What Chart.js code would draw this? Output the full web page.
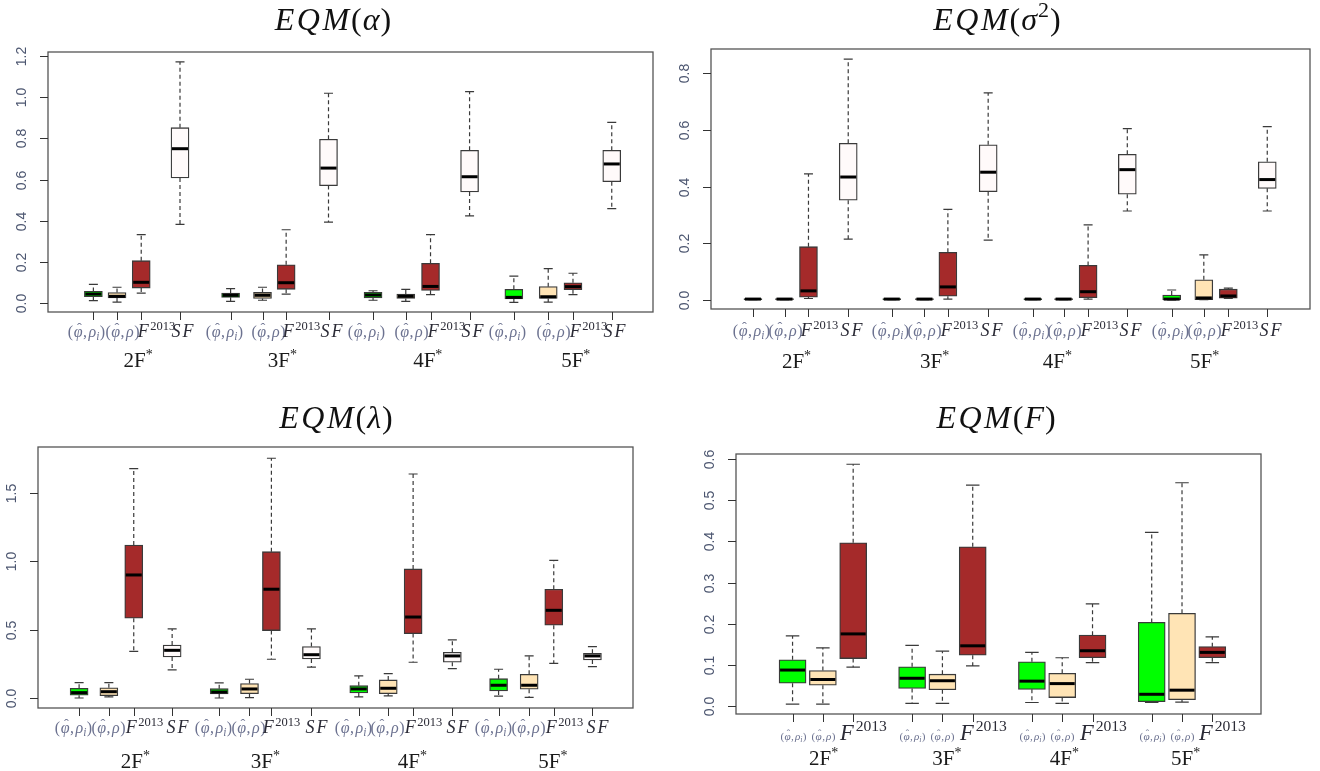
<!DOCTYPE html>
<html>
<head>
<meta charset="utf-8">
<script src="https://cdn.jsdelivr.net/npm/chart.js@4.4.1/dist/chart.umd.min.js"></script>
<style>
  body { margin: 0; background: #fff; width: 1320px; height: 771px; overflow: hidden; position: relative; }
  canvas { position: absolute; }
</style>
</head>
<body>
<canvas id="cAlpha" width="660" height="385" style="left:0;top:0"></canvas>
<canvas id="cSigma" width="660" height="385" style="left:660px;top:0"></canvas>
<canvas id="cLambda" width="660" height="386" style="left:0;top:385px"></canvas>
<canvas id="cF" width="660" height="386" style="left:660px;top:385px"></canvas>
<script>
// groups and methods
const groups = ['2F', '3F', '4F', '5F'];
const methods4 = ['phiI', 'phi', 'F2013', 'SF'];
const methods3 = ['phiI', 'phi', 'F2013'];
const colors4 = ['#00ff00', '#ffe4b5', '#a52a2a', '#fffafa'];
const colors3 = ['#00ff00', '#ffe4b5', '#a52a2a'];

// EQM(alpha)
const alphaLo  = [0.013, 0.006, 0.050, 0.383, 0.010, 0.015, 0.045, 0.394, 0.015, 0.010, 0.042, 0.424, 0.005, 0.006, 0.042, 0.459];
const alphaQ1  = [0.032, 0.026, 0.074, 0.608, 0.029, 0.024, 0.068, 0.571, 0.026, 0.024, 0.063, 0.540, 0.021, 0.024, 0.066, 0.590];
const alphaMed = [0.045, 0.034, 0.102, 0.750, 0.039, 0.039, 0.100, 0.656, 0.040, 0.034, 0.082, 0.614, 0.029, 0.032, 0.081, 0.676];
const alphaQ3  = [0.058, 0.052, 0.207, 0.852, 0.050, 0.053, 0.187, 0.796, 0.053, 0.045, 0.194, 0.742, 0.068, 0.081, 0.100, 0.742];
const alphaHi  = [0.092, 0.078, 0.333, 1.171, 0.071, 0.078, 0.357, 1.019, 0.061, 0.068, 0.333, 1.027, 0.132, 0.168, 0.146, 0.878];
const alphaAt  = [0.65, 1.51, 2.39, 3.80, 5.64, 6.80, 7.66, 9.20, 10.82, 12.01, 12.91, 14.33, 15.94, 17.19, 18.09, 19.50];
const alphaGroupAt = [2.28, 7.52, 12.81, 18.19];
const alphaTicks = [0, 0.2, 0.4, 0.6, 0.8, 1.0, 1.2];

// EQM(sigma^2)
const sigmaLo  = [0.001, 0.001, 0.005, 0.215, 0.001, 0.001, 0.003, 0.211, 0.001, 0.001, 0.003, 0.314, 0.000, 0.001, 0.005, 0.314];
const sigmaQ1  = [0.001, 0.001, 0.010, 0.352, 0.001, 0.001, 0.013, 0.382, 0.001, 0.001, 0.008, 0.373, 0.001, 0.001, 0.006, 0.394];
const sigmaMed = [0.003, 0.003, 0.032, 0.434, 0.003, 0.003, 0.046, 0.451, 0.003, 0.003, 0.029, 0.460, 0.003, 0.007, 0.014, 0.425];
const sigmaQ3  = [0.005, 0.005, 0.188, 0.553, 0.005, 0.005, 0.168, 0.548, 0.005, 0.005, 0.122, 0.514, 0.017, 0.071, 0.038, 0.488];
const sigmaHi  = [0.005, 0.005, 0.445, 0.850, 0.005, 0.005, 0.320, 0.731, 0.005, 0.005, 0.265, 0.605, 0.035, 0.159, 0.042, 0.612];
const sigmaAt  = [0.54, 1.70, 2.58, 4.04, 5.64, 6.84, 7.70, 9.18, 10.82, 11.95, 12.85, 14.29, 15.92, 17.10, 18.00, 19.43];
const sigmaGroupAt = [2.14, 7.21, 11.72, 17.13];
const sigmaTicks = [0, 0.2, 0.4, 0.6, 0.8];

// EQM(lambda)
const lambdaLo  = [0.002, 0.010, 0.343, 0.207, 0.002, 0.005, 0.285, 0.228, 0.010, 0.017, 0.263, 0.216, 0.015, 0.007, 0.255, 0.231];
const lambdaQ1  = [0.022, 0.019, 0.584, 0.301, 0.031, 0.034, 0.494, 0.287, 0.039, 0.034, 0.472, 0.263, 0.053, 0.066, 0.533, 0.280];
const lambdaMed = [0.041, 0.048, 0.900, 0.350, 0.046, 0.068, 0.796, 0.318, 0.068, 0.073, 0.593, 0.309, 0.095, 0.095, 0.642, 0.309];
const lambdaQ3  = [0.073, 0.077, 1.119, 0.389, 0.070, 0.107, 1.070, 0.377, 0.092, 0.134, 0.944, 0.336, 0.143, 0.175, 0.796, 0.328];
const lambdaHi  = [0.114, 0.114, 1.676, 0.506, 0.112, 0.139, 1.752, 0.506, 0.163, 0.180, 1.637, 0.426, 0.212, 0.309, 1.007, 0.377];
const lambdaAt  = [0.52, 1.62, 2.54, 3.96, 5.70, 6.82, 7.63, 9.11, 10.86, 11.95, 12.87, 14.32, 16.03, 17.16, 18.07, 19.50];
const lambdaGroupAt = [2.60, 7.41, 12.84, 18.04];
const lambdaTicks = [0, 0.5, 1.0, 1.5];

// EQM(F)
const fLo  = [0.004, 0.004, 0.094, 0.006, 0.006, 0.097, 0.008, 0.006, 0.105, 0.008, 0.009, 0.105];
const fQ1  = [0.055, 0.050, 0.115, 0.042, 0.039, 0.123, 0.040, 0.020, 0.117, 0.010, 0.015, 0.117];
const fMed = [0.087, 0.064, 0.175, 0.067, 0.061, 0.146, 0.060, 0.054, 0.134, 0.028, 0.038, 0.130];
const fQ3  = [0.112, 0.086, 0.397, 0.095, 0.077, 0.387, 0.107, 0.079, 0.172, 0.203, 0.225, 0.144];
const fHi  = [0.170, 0.141, 0.588, 0.147, 0.133, 0.537, 0.130, 0.117, 0.248, 0.422, 0.543, 0.168];
const fAt  = [1.37, 2.64, 3.91, 6.38, 7.65, 8.92, 11.40, 12.67, 13.94, 16.42, 17.69, 18.96];
const fGroupAt = [2.67, 7.84, 12.76, 17.84];
const fTicks = [0, 0.1, 0.2, 0.3, 0.4, 0.5, 0.6];

const SERIF = '"Liberation Serif", "DejaVu Serif", serif';
function seg(t, size, italic, dy, sp, hat) {
  return { t: t, size: size, f: (italic ? 'italic ' : '') + size + 'px ' + SERIF, dy: dy || 0, sp: sp || 0, hat: !!hat };
}
function rich(ctx, segs, cx, y, color) {
  let w = 0;
  segs.forEach(s => { ctx.font = s.f; s.w = ctx.measureText(s.t).width; w += s.w + s.sp; });
  let xx = cx - w / 2;
  ctx.fillStyle = color;
  ctx.textBaseline = 'alphabetic';
  segs.forEach(s => {
    ctx.font = s.f;
    ctx.textAlign = 'left';
    ctx.fillText(s.t, xx, y + s.dy);
    if (s.hat) {
      ctx.font = (s.size * 0.9) + 'px ' + SERIF;
      ctx.textAlign = 'center';
      ctx.fillText('\u02C6', xx + s.w / 2 + s.size * 0.08, y + s.dy - s.size * 0.28);
    }
    xx += s.w + s.sp;
  });
}

const methodSegs = {
  phiI: k => [seg('(', 16 * k, false, 0, 0.5 * k), seg('φ', 16 * k, true, 0, 0.5 * k, true), seg(',', 16 * k, false, 0, 1.5 * k),
              seg('ρ', 16 * k, true), seg('i', 11.5 * k, true, 3 * k, 0.5 * k), seg(')', 16 * k)],
  phi: k => [seg('(', 16 * k, false, 0, 0.5 * k), seg('φ', 16 * k, true, 0, 0.5 * k, true), seg(',', 16 * k, false, 0, 1.5 * k),
             seg('ρ', 16 * k, true, 0, 0.5 * k), seg(')', 16 * k)],
  F2013: k => [seg('F', 18 * k, true, 0, 1.5 * k), seg('2013', 12.5 * k, false, -7 * k)],
  SF: k => [seg('S', 18 * k, true, 0, 2), seg('F', 18 * k, true)]
};
const methodColor = { phiI: '#6c7290', phi: '#6c7290', F2013: '#2b2b36', SF: '#2b2b36' };

function titleSegs(sym) {
  const s = 32;
  const out = [seg('E', s, true, 0, 2.5), seg('Q', s, true, 0, 2.5), seg('M', s, true, 0, 2), seg('(', s, false, 0, 1)];
  return out.concat(sym(s), [seg(')', s)]);
}

function rPlugin(cfg) {
  return {
    id: 'rbox',
    beforeDatasetsDraw(chart) {
      const ctx = chart.ctx, x = chart.scales.x, y = chart.scales.y;
      const cap = cfg.boxW / 4;
      ctx.save();
      ctx.strokeStyle = '#3a3a3a';
      ctx.lineWidth = 1.2;
      cfg.at.forEach((v, i) => {
        const px = x.getPixelForValue(v);
        const yLo = y.getPixelForValue(cfg.lo[i]), yQ1 = y.getPixelForValue(cfg.q1[i]);
        const yQ3 = y.getPixelForValue(cfg.q3[i]), yHi = y.getPixelForValue(cfg.hi[i]);
        ctx.setLineDash([4, 3]);
        ctx.beginPath();
        ctx.moveTo(px, yQ3); ctx.lineTo(px, yHi);
        ctx.moveTo(px, yQ1); ctx.lineTo(px, yLo);
        ctx.stroke();
        ctx.setLineDash([]);
        ctx.beginPath();
        ctx.moveTo(px - cap, yHi); ctx.lineTo(px + cap, yHi);
        ctx.moveTo(px - cap, yLo); ctx.lineTo(px + cap, yLo);
        ctx.stroke();
      });
      ctx.restore();
    },
    afterDatasetsDraw(chart) {
      const ctx = chart.ctx, x = chart.scales.x, y = chart.scales.y;
      const half = cfg.boxW / 2;
      ctx.save();
      ctx.strokeStyle = '#000';
      ctx.lineWidth = 3;
      cfg.at.forEach((v, i) => {
        const px = x.getPixelForValue(v), py = y.getPixelForValue(cfg.med[i]);
        ctx.beginPath();
        ctx.moveTo(px - half + 1, py); ctx.lineTo(px + half - 1, py);
        ctx.stroke();
      });
      ctx.restore();
    },
    afterDraw(chart) {
      const ctx = chart.ctx, x = chart.scales.x, y = chart.scales.y;
      const a = chart.chartArea;
      ctx.save();
      // frame
      ctx.strokeStyle = '#555';
      ctx.lineWidth = 1.3;
      ctx.strokeRect(a.left, a.top, a.right - a.left, a.bottom - a.top);
      // y axis
      ctx.strokeStyle = '#333';
      ctx.lineWidth = 1;
      ctx.font = '14px "Liberation Sans", Arial, sans-serif';
      ctx.fillStyle = '#4c5670';
      cfg.ticks.forEach(t => {
        const py = Math.round(y.getPixelForValue(t)) + 0.5;
        ctx.beginPath();
        ctx.moveTo(a.left - 8, py); ctx.lineTo(a.left, py);
        ctx.stroke();
        ctx.save();
        ctx.translate(a.left - 26, py);
        ctx.rotate(-Math.PI / 2);
        ctx.textAlign = 'center';
        ctx.textBaseline = 'middle';
        ctx.fillText(t.toFixed(1), 0, 0);
        ctx.restore();
      });
      // x axis
      cfg.at.forEach((v, i) => {
        const px = Math.round(x.getPixelForValue(v)) + 0.5;
        ctx.beginPath();
        ctx.moveTo(px, a.bottom); ctx.lineTo(px, a.bottom + 8);
        ctx.stroke();
        const m = cfg.methods[i % cfg.methods.length];
        const k = cfg.labelScale[m];
        rich(ctx, methodSegs[m](k), px + cfg.labelOffset[m], a.bottom + cfg.labelDy, methodColor[m]);
      });
      groups.forEach((g, j) => {
        const px = x.getPixelForValue(cfg.groupAt[j]);
        rich(ctx, [seg(g, 21), seg('*', 14, false, -8)], px, a.bottom + cfg.groupDy, '#1a1a1a');
      });
      rich(ctx, titleSegs(cfg.sym), cfg.titleX, cfg.titleY, '#111');
      ctx.restore();
    }
  };
}

function makeBoxChart(id, cfg) {
  const n = cfg.at.length;
  const colors = [];
  for (let i = 0; i < n; i++) colors.push(cfg.colors[i % cfg.colors.length]);
  const data = cfg.at.map((v, i) => ({ x: v, y: [cfg.q1[i], cfg.q3[i]] }));
  return new Chart(document.getElementById(id), {
    type: 'bar',
    data: {
      datasets: [{
        data: data,
        backgroundColor: colors,
        borderColor: '#3a3a3a',
        borderWidth: 1.3,
        borderSkipped: false,
        barThickness: cfg.boxW
      }]
    },
    options: {
      responsive: false,
      animation: false,
      devicePixelRatio: 1,
      layout: { padding: cfg.pad },
      plugins: { legend: { display: false }, tooltip: { enabled: false } },
      scales: {
        x: { type: 'linear', display: false, min: 0, max: 20 },
        y: { display: false, min: cfg.yMin, max: cfg.yMax }
      }
    },
    plugins: [rPlugin(cfg)]
  });
}

const scale4 = { phiI: 1, phi: 1, F2013: 1, SF: 1 };

makeBoxChart('cAlpha', {
  lo: alphaLo, q1: alphaQ1, med: alphaMed, q3: alphaQ3, hi: alphaHi, at: alphaAt, groupAt: alphaGroupAt,
  ticks: alphaTicks, methods: methods4, colors: colors4, boxW: 18,
  yMin: -0.042, yMax: 1.219, pad: { left: 48, top: 52, right: 7, bottom: 73 },
  labelOffset: { phiI: -7, phi: 5, F2013: 15, SF: 2 }, labelScale: scale4, labelDy: 25, groupDy: 55,
  titleX: 333, titleY: 30, sym: s => [seg('α', s, true, 0, 1)]
});

makeBoxChart('cSigma', {
  lo: sigmaLo, q1: sigmaQ1, med: sigmaMed, q3: sigmaQ3, hi: sigmaHi, at: sigmaAt, groupAt: sigmaGroupAt,
  ticks: sigmaTicks, methods: methods4, colors: colors4, boxW: 18,
  yMin: -0.032, yMax: 0.886, pad: { left: 51, top: 49, right: 10, bottom: 76 },
  labelOffset: { phiI: -2, phi: 0, F2013: 11, SF: 3 }, labelScale: scale4, labelDy: 27, groupDy: 59,
  titleX: 337, titleY: 30, sym: s => [seg('σ', s, true, 0, 1), seg('2', 22, false, -13, 1)]
});

makeBoxChart('cLambda', {
  lo: lambdaLo, q1: lambdaQ1, med: lambdaMed, q3: lambdaQ3, hi: lambdaHi, at: lambdaAt, groupAt: lambdaGroupAt,
  ticks: lambdaTicks, methods: methods4, colors: colors4, boxW: 18,
  yMin: -0.071, yMax: 1.834, pad: { left: 38, top: 62, right: 27, bottom: 63 },
  labelOffset: { phiI: -6, phi: -1, F2013: 10, SF: 5 }, labelScale: scale4, labelDy: 25, groupDy: 60,
  titleX: 336, titleY: 43, sym: s => [seg('λ', s, true, 0, 1)]
});

makeBoxChart('cF', {
  lo: fLo, q1: fQ1, med: fMed, q3: fQ3, hi: fHi, at: fAt, groupAt: fGroupAt,
  ticks: fTicks, methods: methods3, colors: colors3, boxW: 27,
  yMin: -0.020, yMax: 0.613, pad: { left: 76, top: 69, right: 59, bottom: 57 },
  labelOffset: { phiI: 0, phi: 0, F2013: 10 }, labelScale: { phiI: 0.7, phi: 0.7, F2013: 1.25 },
  labelDy: 26, groupDy: 51,
  titleX: 336, titleY: 43, sym: s => [seg('F', s, true, 0, 1)]
});
</script>
</body>
</html>
